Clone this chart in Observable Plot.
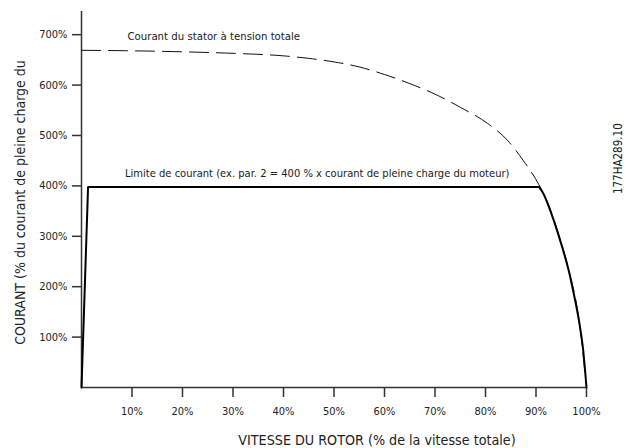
<!DOCTYPE html>
<html>
<head>
<meta charset="utf-8">
<script src="https://cdn.jsdelivr.net/npm/d3@7"></script>
<script src="https://cdn.jsdelivr.net/npm/@observablehq/plot@0.6"></script>
<style>
  html, body { margin: 0; padding: 0; background: #fff; }
  svg { font-stretch: condensed; }
</style>
</head>
<body>
<div id="chart"></div>
<script>
// Rotor speed (% of full speed) and current (% of full-load current)
const statorSpeed   = [0, 10, 20, 30, 40, 45, 50, 55, 60, 65, 70, 75, 80.4, 84.4, 87.5, 90.6, 92.5, 94.5, 96.5, 98.5, 100];
const statorCurrent = [669, 668, 666, 663, 658, 653, 646, 636, 621, 603, 582, 556, 524, 490, 450, 402, 362, 303, 233, 135, 0];

// Current limit: steep rise, flat plateau, then the drop near synchronous speed
const riseSpeed   = [0, 1.3, 90.6];
const riseCurrent = [0, 398, 398];
const dropSpeed   = [90.6, 91.5, 92.5, 93.5, 94.5, 95.5, 96.5, 97.5, 98.5, 99.3, 100];
const dropCurrent = [398, 384, 360, 332, 301, 268, 231, 185, 133, 78, 0];

const xTicks = [10, 20, 30, 40, 50, 60, 70, 80, 90, 100];
const yTicks = [100, 200, 300, 400, 500, 600, 700];

const statorLabel = "Courant du stator à tension totale";
const limitLabel = "Limite de courant (ex. par. 2 = 400 % x courant de pleine charge du moteur)";
const xTitle = "VITESSE DU ROTOR (% de la vitesse totale)";
const yTitle = "COURANT (% du courant de pleine charge du";
const figId = "177HA289.10";

const toRows = (xs, ys) => xs.map((s, i) => ({speed: s, current: ys[i]}));
const stator = toRows(statorSpeed, statorCurrent);
const rise = toRows(riseSpeed, riseCurrent);
const drop = toRows(dropSpeed, dropCurrent);

const font = "'DejaVu Sans Condensed', 'DejaVu Sans', sans-serif";
const ink = "#222";

const chart = Plot.plot({
  width: 626,
  height: 448,
  marginLeft: 81,
  marginRight: 40,
  marginTop: 11,
  marginBottom: 61,
  style: {fontFamily: font, fontSize: "11px", color: ink, background: "#fff"},
  x: {domain: [0, 100], axis: null},
  y: {domain: [0, 746], axis: null},
  marks: [
    Plot.ruleX([0], {y1: 0, y2: 746, stroke: "#333", strokeWidth: 1.5}),
    Plot.ruleY([0], {x1: 0, x2: 100, stroke: "#333", strokeWidth: 1.5}),
    Plot.axisY(yTicks, {label: null, tickSize: 9, tickPadding: 5, tickFormat: d => d + "%", stroke: "#333", strokeWidth: 1.5, fontSize: 11, fill: ink}),
    Plot.axisX(xTicks, {label: null, tickSize: 10, tickPadding: 10, tickFormat: d => d + "%", stroke: "#333", strokeWidth: 1.5, fontSize: 11, fill: ink}),
    Plot.line(stator, {x: "speed", y: "current", curve: "monotone-x", stroke: "#111", strokeWidth: 1, strokeDasharray: "19,8"}),
    Plot.line(rise, {x: "speed", y: "current", curve: "linear", stroke: "#000", strokeWidth: 2, strokeLinejoin: "miter"}),
    Plot.line(drop, {x: "speed", y: "current", curve: "monotone-x", stroke: "#000", strokeWidth: 2}),
    Plot.text([statorLabel], {x: 9.1, y: 696, text: d => d, textAnchor: "start", lineAnchor: "middle", fontSize: 11.3, fill: ink}),
    Plot.text([limitLabel], {x: 8.6, y: 425, text: d => d, textAnchor: "start", lineAnchor: "middle", fontSize: 11.1, fill: ink}),
    Plot.text([xTitle], {frameAnchor: "bottom", dx: 43, dy: 53, text: d => d, textAnchor: "middle", lineAnchor: "middle", fontSize: 14.2, fill: ink}),
    Plot.text([yTitle], {frameAnchor: "left", dx: -61, dy: 3, rotate: -90, text: d => d, textAnchor: "middle", lineAnchor: "middle", fontSize: 14, fill: ink}),
    Plot.text([figId], {x: 106.3, y: 454, rotate: -90, text: d => d, textAnchor: "middle", lineAnchor: "middle", fontSize: 11.5, fill: ink})
  ]
});
document.getElementById("chart").appendChild(chart);
</script>
</body>
</html>
